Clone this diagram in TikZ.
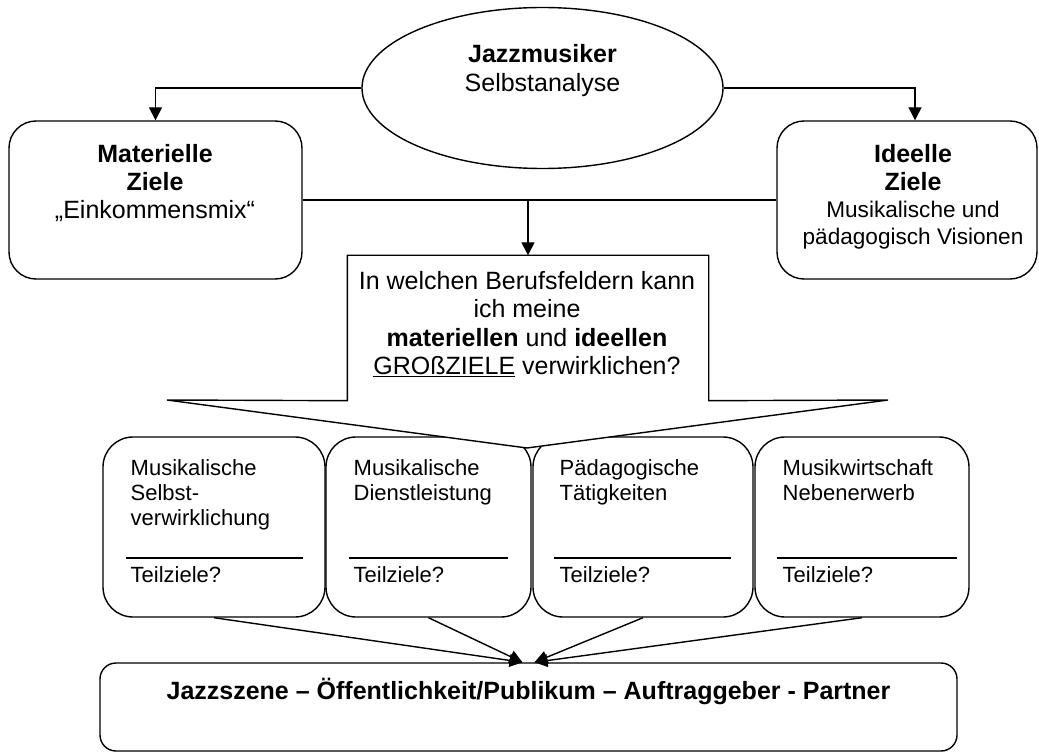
\documentclass[tikz,border=0pt]{standalone}
\usepackage{fontspec}
\setmainfont{Liberation Sans}
\usetikzlibrary{shapes.geometric,arrows.meta,calc}

\begin{document}
\begin{tikzpicture}[x=1pt,y=-1pt,
  line width=1.4pt,
  sidebox/.style={draw, fill=white, rounded corners=27pt, minimum width=293pt, minimum height=158pt, inner sep=0pt},
  fieldbox/.style={draw, fill=white, rounded corners=30pt, minimum height=180pt, inner sep=0pt},
  txt/.style={inner sep=0pt, font=\fontsize{25}{28.3}\selectfont},
  small/.style={inner sep=0pt, font=\fontsize{22}{25}\selectfont, align=left},
  link/.style={-{Triangle[length=13pt,width=13pt]}, line width=1.4pt},
  divider/.style={line width=2pt},
]
% canvas
\fill[white] (0,0) rectangle (1039,754);
\useasboundingbox (0,0) rectangle (1039,754);

% top: self analysis and the two kinds of goals
\node[ellipse, draw, fill=white, minimum width=361pt, minimum height=161pt, inner sep=0pt] (self) at (542.5,88) {};
\node[txt, anchor=north, align=center] (selftxt) at (542.5,42)
  {\rule{0pt}{20pt}\textbf{Jazzmusiker}\\[0.7pt]Selbstanalyse};

\node[sidebox] (mat) at (155.5,200) {};
\node[txt, anchor=north, align=center] (mattxt) at (155,141.7)
  {\rule{0pt}{20pt}\textbf{Materielle}\\\textbf{Ziele}\\„Einkommensmix“};

\node[sidebox, minimum width=260pt] (ide) at (907,200) {};
\node[txt, anchor=north, align=center] (idetxt) at (913,141.7)
  {\rule{0pt}{20pt}\textbf{Ideelle}\\\textbf{Ziele}\\[-1.6pt]{\fontsize{22.6}{26.7}\selectfont Musikalische und}\\[-1.6pt]{\fontsize{22.6}{26.7}\selectfont pädagogisch Visionen}};

\coordinate (ideIn) at ($(ide.north)+(8,0)$);
\draw[link] (self.west) -| (mat.north);
\draw[link] (self.east) -| (ideIn);
\draw (mat.east) -- (ide.west);

% four professional fields
\node[fieldbox, minimum width=222pt] (f1) at (214,527) {};
\node[fieldbox, minimum width=205pt] (f2) at (428.5,527) {};
\node[fieldbox, minimum width=220pt] (f3) at (643,527) {};
\node[fieldbox, minimum width=214pt] (f4) at (862,527) {};

\draw[divider] (126,558) -- (303,558);
\draw[divider] (349,558) -- (508,558);
\draw[divider] (554,558) -- (731,558);
\draw[divider] (777,558) -- (957,558);

\node[small, anchor=north west] (f1txt) at (130,457) {\rule{0pt}{18pt}Musikalische\\Selbst-\\verwirklichung};
\node[small, anchor=north west] (f2txt) at (353,457) {\rule{0pt}{18pt}Musikalische\\Dienstleistung};
\node[small, anchor=north west] (f3txt) at (559,457) {\rule{0pt}{18pt}Pädagogische\\Tätigkeiten};
\node[small, anchor=north west] (f4txt) at (782,457) {\rule{0pt}{18pt}Musikwirtschaft\\Nebenerwerb};

\node[small, anchor=base west] (f1sub) at (130,582.7) {Teilziele?};
\node[small, anchor=base west] (f2sub) at (353,582.7) {Teilziele?};
\node[small, anchor=base west] (f3sub) at (559,582.7) {Teilziele?};
\node[small, anchor=base west] (f4sub) at (782,582.7) {Teilziele?};

% central question as a callout pointing down to the fields
\node[minimum width=360pt, minimum height=144pt, inner sep=0pt] (q) at (528,328) {};
\coordinate (qL) at (167,400);
\coordinate (qR) at (888,400);
\coordinate (qTip) at (527,448);
\draw[fill=white] (q.north west) -- (q.north east) -- (q.south east) -- (qR) -- (qTip) -- (qL) -- (q.south west) -- cycle;
\draw[link] (q.north |- mat.east) -- (q.north);
\node[txt, anchor=north, align=center, font=\fontsize{25}{28.5}\selectfont] (qtxt) at (527,268.3)
  {\rule{0pt}{20pt}In welchen Berufsfeldern kann\\ich meine\\\textbf{materiellen} und \textbf{ideellen}\\\underline{GROßZIELE} verwirklichen?};

% bottom: the scene
\node[draw, fill=white, rounded corners=16pt, minimum width=857pt, minimum height=88pt, inner sep=0pt] (scene) at (528.5,707) {};
\node[txt, anchor=base] (scenetxt) at (528.5,699.3)
  {\textbf{Jazzszene – Öffentlichkeit/Publikum – Auftraggeber - Partner}};

\coordinate (inL) at ($(scene.north)+(-6,0)$);
\coordinate (inR) at ($(scene.north)+(6,0)$);
\draw[link] (f1.south) -- (inL);
\draw[link] (f2.south) -- (inL);
\draw[link] (f3.south) -- (inR);
\draw[link] (f4.south) -- (inR);
\end{tikzpicture}
\end{document}
